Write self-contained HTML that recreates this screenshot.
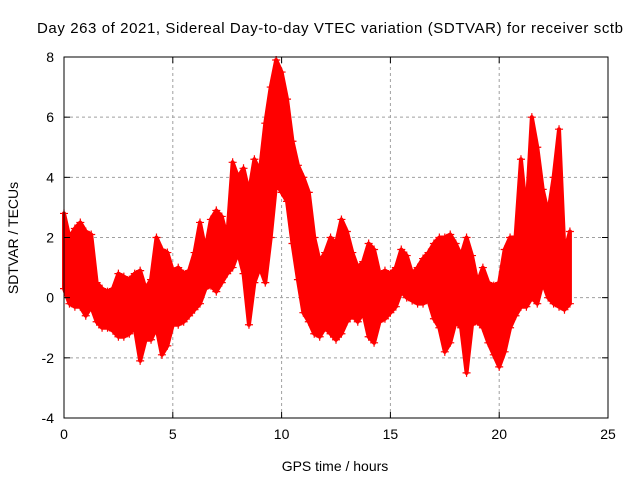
<!DOCTYPE html>
<html><head><meta charset="utf-8"><style>
body{margin:0;background:#fff}
svg{display:block;font-family:"Liberation Sans",sans-serif}
</style></head><body>
<svg id="chart" width="640" height="480">
<rect width="640" height="480" fill="#fff"/>
<text x="37" y="33" font-size="15" textLength="586">Day 263 of 2021, Sidereal Day-to-day VTEC variation (SDTVAR) for receiver sctb</text>
<g id="grid"></g>
<g id="band"></g>
<g id="marks"></g>
<g id="axes"></g>
<text x="335" y="471" font-size="14" text-anchor="middle">GPS time / hours</text>
<text transform="translate(18,238) rotate(-90)" font-size="14" text-anchor="middle">SDTVAR / TECUs</text>
</svg>
<script>
const times=[0,0.25,0.5,0.75,1,1.25,1.5,1.75,2,2.25,2.5,2.75,3,3.25,3.5,3.75,4,4.25,4.5,4.75,5,5.25,5.5,5.75,6,6.25,6.5,6.75,7,7.25,7.5,7.75,8,8.25,8.5,8.75,9,9.25,9.5,9.75,10,10.25,10.5,10.75,11,11.25,11.5,11.75,12,12.25,12.5,12.75,13,13.25,13.5,13.75,14,14.25,14.5,14.75,15,15.25,15.5,15.75,16,16.25,16.5,16.75,17,17.25,17.5,17.75,18,18.25,18.5,18.75,19,19.25,19.5,19.75,20,20.25,20.5,20.75,21,21.25,21.5,21.75,22,22.25,22.5,22.75,23,23.25];
const upper=[2.8,2.0,2.3,2.5,2.2,2.1,0.5,0.3,0.2,0.3,0.8,0.7,0.6,0.8,0.9,0.3,0.6,2.0,1.6,1.5,0.9,1.0,0.8,0.9,1.5,2.5,1.6,2.6,2.9,2.7,2.0,4.5,4.0,4.3,3.5,4.6,4.2,5.8,7.0,7.9,7.5,6.6,5.2,4.4,4.0,3.5,2.0,1.2,1.5,2.0,1.8,2.6,2.2,1.5,1.0,1.2,1.8,1.6,0.8,0.9,0.8,1.0,1.6,1.4,0.8,1.0,1.3,1.5,1.8,2.0,2.0,2.1,1.8,1.4,2.0,1.4,0.5,1.0,0.5,0.4,0.5,1.6,2.0,2.0,4.6,2.8,6.0,5.0,3.6,2.8,4.0,5.6,1.5,2.2];
const lower=[0.3,-0.2,-0.3,-0.3,-0.6,-0.3,-0.8,-1.0,-1.0,-1.1,-1.3,-1.3,-1.2,-1.0,-2.1,-1.4,-1.4,-1.0,-1.9,-1.6,-0.9,-0.9,-0.8,-0.6,-0.4,-0.2,0.3,0.4,0.2,0.5,0.8,1.0,1.5,0.8,-0.9,0.5,1.0,0.5,2.0,3.8,3.5,3.2,1.8,0.6,-0.5,-0.8,-1.2,-1.3,-1.0,-1.2,-1.4,-1.2,-0.8,-0.6,-0.8,-0.5,-1.3,-1.5,-0.8,-0.7,-0.5,-0.3,0.2,0.0,-0.1,-0.2,-0.2,-0.1,-0.7,-1.0,-1.8,-1.5,-0.8,-1.0,-2.5,-0.9,-0.8,-1.0,-1.5,-1.9,-2.3,-1.8,-1.0,-0.6,-0.3,-0.3,0.0,-0.2,0.5,0.0,-0.2,-0.3,-0.4,-0.2];
const xTicks=[0,5,10,15,20,25];
const yTicks=[-4,-2,0,2,4,6,8];
const X0=64,X1=608,Y0=418,Y1=57;
const xs=v=>X0+(v-0)/25*(X1-X0);
const ys=v=>Y0-(v+4)/12*(Y0-Y1);
const NS="http://www.w3.org/2000/svg";
function mk(tag,parent,attrs){const e=document.createElementNS(NS,tag);for(const k in attrs)e.setAttribute(k,attrs[k]);parent.appendChild(e);return e;}
const grid=document.getElementById('grid'),axes=document.getElementById('axes'),band=document.getElementById('band'),marks=document.getElementById('marks');
xTicks.forEach(t=>{
 if(t>0&&t<25){const l=mk('line',grid,{x1:xs(t),x2:xs(t),y1:Y0,y2:Y1,stroke:'#a0a0a0','stroke-dasharray':'3,3'});
 
 }
 mk('line',axes,{x1:xs(t),x2:xs(t),y1:Y0,y2:Y0-6,stroke:'#000'});
 mk('line',axes,{x1:xs(t),x2:xs(t),y1:Y1,y2:Y1+6,stroke:'#000'});
 const tx=mk('text',axes,{x:xs(t),y:Y0+21,'font-size':14,'text-anchor':'middle'});tx.textContent=t;
 
 
});
yTicks.forEach(t=>{
 if(t>-4&&t<8){const l=mk('line',grid,{x1:X0,x2:X1,y1:ys(t),y2:ys(t),stroke:'#a0a0a0','stroke-dasharray':'3,3'});
 
 }
 mk('line',axes,{x1:X0,x2:X0+6,y1:ys(t),y2:ys(t),stroke:'#000'});
 mk('line',axes,{x1:X1,x2:X1-6,y1:ys(t),y2:ys(t),stroke:'#000'});
 const tx=mk('text',axes,{x:X0-10,y:ys(t)+5,'font-size':14,'text-anchor':'end'});tx.textContent=t;
 
 
});
const frame=mk('rect',axes,{x:X0,y:Y1,width:X1-X0,height:Y0-Y1,fill:'none',stroke:'#000'});


let pts=times.map((t,i)=>xs(t)+','+ys(upper[i]));
for(let i=times.length-1;i>=0;i--)pts.push(xs(times[i])+','+ys(lower[i]));
const poly=mk('polygon',band,{points:pts.join(' '),fill:'#ff0000',stroke:'#ff0000','stroke-width':4,'stroke-linejoin':'round'});


function plus(x,y,name){const p=mk('path',marks,{d:`M${x-4},${y}h8M${x},${y-4}v8`,stroke:'#ff0000','stroke-width':1.2});
 
 }
times.forEach((t,i)=>{plus(xs(t),ys(upper[i]),'sdtvar-point-high');plus(xs(t),ys(lower[i]),'sdtvar-point-low');});
</script>
</body></html>
